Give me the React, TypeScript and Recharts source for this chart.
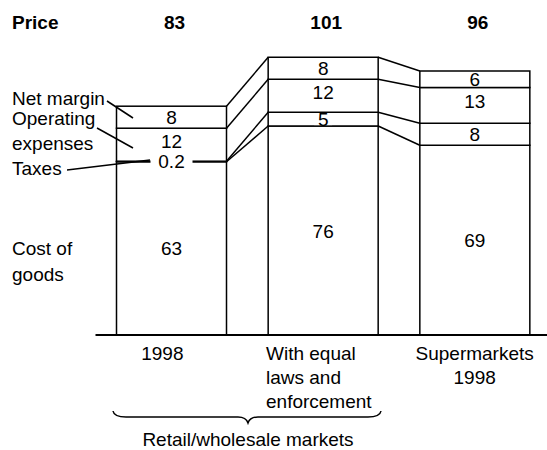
import React from "react";
import { BarChart, Bar, XAxis, YAxis, LabelList } from "recharts";

const categories = ["1998", "With equal\nlaws and\nenforcement", "Supermarkets\n1998"];
const costOfGoods = [63, 76, 69];
const taxes = [0.2, 5, 8];
const operatingExpenses = [12, 12, 13];
const netMargin = [8, 8, 6];
const prices = [83, 101, 96];

const W = 547;
const H = 450;
const MARGIN = { top: 32.5, right: -3.5, bottom: 85, left: 95.5 };
const X_AXIS_H = 30;
const Y_MAX = 110;
const PLOT_W = W - MARGIN.left - MARGIN.right;
const PLOT_H = H - MARGIN.top - MARGIN.bottom - X_AXIS_H;
const BAND = PLOT_W / categories.length;
const BAR = 110;
const FONT = "'Liberation Sans', Arial, Helvetica, sans-serif";

const stacks = [costOfGoods, taxes, operatingExpenses, netMargin];
const cumTop = (level: number, i: number) =>
  stacks.slice(0, level + 1).reduce((s, arr) => s + arr[i], 0);
const yPx = (v: number) => MARGIN.top + PLOT_H - (v * PLOT_H) / Y_MAX;

const data = categories.map((c, i) => ({
  category: c,
  cost: costOfGoods[i],
  taxes: taxes[i],
  operating: operatingExpenses[i],
  net: netMargin[i],
}));

// segment rect + the slanted line over to the same level of the next bar
const makeShape = (level: number) => (props: any) => {
  const { x, y, width, height, index } = props;
  return (
    <g>
      <rect x={x} y={y} width={width} height={height} fill="#fff" stroke="#000" strokeWidth={1.5} />
      {index < categories.length - 1 && (
        <line
          x1={x + width}
          y1={y}
          x2={x + BAND}
          y2={yPx(cumTop(level, index + 1))}
          stroke="#000"
          strokeWidth={1.5}
        />
      )}
    </g>
  );
};

const segLabel = (boxed: boolean, shift = 0) => (props: any) => {
  const { x, y, width, height, value } = props;
  const cx = x + width / 2;
  const cy = y + height / 2 + shift;
  const txt = String(value);
  return (
    <g>
      {boxed && (
        <rect x={cx - txt.length * 6 - 3} y={cy - 6} width={txt.length * 12 + 6} height={12} fill="#fff" />
      )}
      <text x={cx} y={cy + 7} textAnchor="middle" fontSize={19} fontFamily={FONT} fill="#000">
        {txt}
      </text>
    </g>
  );
};

const priceLabel = (props: any) => {
  const { x, width, index } = props;
  return (
    <text x={x + width / 2 + 3} y={29} textAnchor="middle" fontSize={19} fontWeight="bold" fontFamily={FONT} fill="#000">
      {prices[index]}
    </text>
  );
};

const CategoryTick = (props: any) => {
  const { x, y, payload, index } = props;
  const lines = String(payload.value).split("\n");
  const left = index === 1;
  return (
    <g>
      {lines.map((l, k) => (
        <text
          key={k}
          x={left ? x - BAR / 2 - 2 : x - (index === 0 ? 9 : 0)}
          y={y + 17 + k * 24}
          textAnchor={left ? "start" : "middle"}
          fontSize={19}
          fontFamily={FONT}
          fill="#000"
        >
          {l}
        </text>
      ))}
    </g>
  );
};

export default function App() {
  const t = { fontSize: 19, fontFamily: FONT, fill: "#000" };
  return (
    <div style={{ position: "absolute", left: 0, top: 0, width: W, height: H, background: "#fff", overflow: "hidden" }}>
      <BarChart width={W} height={H} data={data} margin={MARGIN}>
        <XAxis
          dataKey="category"
          height={X_AXIS_H}
          tick={<CategoryTick />}
          tickLine={false}
          axisLine={{ stroke: "#000", strokeWidth: 2 }}
          interval={0}
        />
        <YAxis hide domain={[0, Y_MAX]} />
        <Bar dataKey="cost" stackId="a" barSize={BAR} shape={makeShape(0)} isAnimationActive={false}>
          <LabelList dataKey="cost" content={segLabel(false)} />
        </Bar>
        <Bar dataKey="taxes" stackId="a" barSize={BAR} shape={makeShape(1)} isAnimationActive={false}>
          <LabelList dataKey="taxes" content={segLabel(true)} />
        </Bar>
        <Bar dataKey="operating" stackId="a" barSize={BAR} shape={makeShape(2)} isAnimationActive={false}>
          <LabelList dataKey="operating" content={segLabel(false, -4)} />
        </Bar>
        <Bar dataKey="net" stackId="a" barSize={BAR} shape={makeShape(3)} isAnimationActive={false}>
          <LabelList dataKey="net" content={segLabel(false)} />
          <LabelList dataKey="net" content={priceLabel} />
        </Bar>
      </BarChart>
      <svg width={W} height={H} style={{ position: "absolute", left: 0, top: 0, pointerEvents: "none" }}>
        <text x={12} y={29} {...t} fontWeight="bold">Price</text>
        <text x={12} y={105} {...t}>Net margin</text>
        <text x={12} y={125} {...t}>Operating</text>
        <text x={12} y={150} {...t}>expenses</text>
        <text x={12} y={175} {...t}>Taxes</text>
        <text x={12} y={255} {...t}>Cost of</text>
        <text x={12} y={281} {...t}>goods</text>
        <line x1={107} y1={101} x2={133} y2={118} stroke="#000" strokeWidth={1.5} />
        <line x1={97} y1={128} x2={133} y2={148} stroke="#000" strokeWidth={1.5} />
        <line x1={67} y1={170} x2={150} y2={160} stroke="#000" strokeWidth={1.5} />
        <path
          d="M113,411 Q114,417 126,417 L238,417 Q246,417 248,423 Q250,417 258,417 L368,417 Q380,417 381,411"
          fill="none"
          stroke="#000"
          strokeWidth={1.5}
        />
        <text x={248} y={446} {...t} textAnchor="middle">Retail/wholesale markets</text>
      </svg>
    </div>
  );
}
